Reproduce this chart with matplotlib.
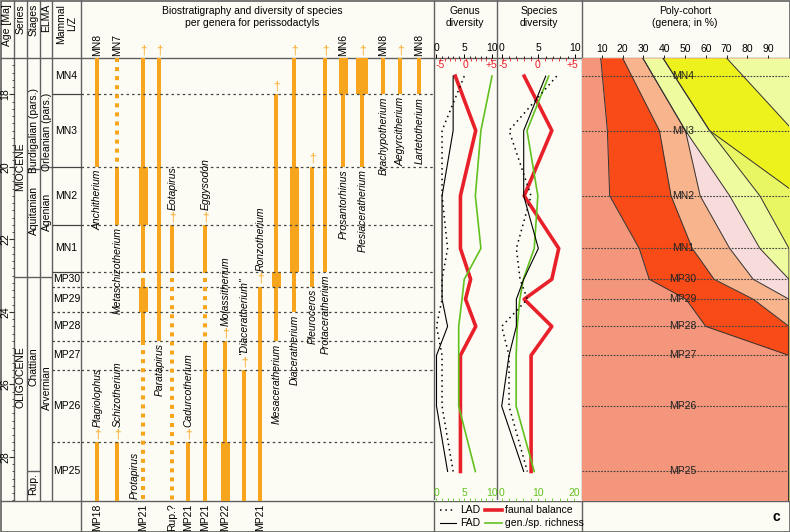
import numpy as np
import matplotlib
matplotlib.use('Agg')
import matplotlib.pyplot as plt

plt.rcParams['font.family'] = ['Liberation Sans', 'DejaVu Sans']

W, H = 790, 532
AGE_TOP, AGE_BOT = 17.0, 29.2

# time scale (Ma)
zone_names = ['MN4', 'MN3', 'MN2', 'MN1', 'MP30', 'MP29', 'MP28', 'MP27', 'MP26', 'MP25']
zone_bounds = [17.0, 18.0, 20.0, 21.6, 22.9, 23.3, 24.0, 24.8, 25.6, 27.6, 29.2]
series_names = ['MIOCENE', 'OLIGOCENE']
series_bounds = [17.0, 23.05, 29.2]
stage_names = ['Burdigalian (pars.)', 'Aquitanian', 'Chattian', 'Rup.']
stage_bounds = [17.0, 20.05, 23.05, 28.4, 29.2]
elma_names = ['Orleanian (pars.)', 'Agenian', 'Arvernian']
elma_bounds = [17.0, 20.0, 23.05, 29.2]

# genera, column, ranges (start, end, n species; 0 = uncertain)
genera = ['Anchitherium', 'Plagiolophus', 'Metaschizotherium', 'Schizotherium', 'Protapirus',
          'Paratapirus', 'Eotapirus', 'Cadurcotherium', 'Eggysodon', 'Molassitherium',
          '"Diaceratherium"', 'Ronzotherium', 'Mesaceratherium', 'Diaceratherium', 'Pleuroceros',
          'Protaceratherium', 'Prosantorhinus', 'Plesiaceratherium', 'Brachypotherium',
          'Aegyrcitherium', 'Lartetotherium']
genus_col = [0, 0, 1, 1, 2, 3, 4, 5, 6, 7, 8, 9, 10, 11, 12, 13, 14, 15, 16, 17, 18]
ranges = [
    [(17.0, 20.0, 1)],
    [(27.6, 29.2, 1)],
    [(17.0, 20.0, 0), (20.0, 21.6, 1)],
    [(27.6, 29.2, 1)],
    [(17.0, 20.0, 1), (20.0, 21.6, 2), (21.6, 22.93, 1), (23.07, 23.3, 1), (23.3, 24.0, 2),
     (24.0, 24.8, 1), (24.8, 29.2, 0)],
    [(17.0, 24.8, 1)],
    [(21.6, 22.93, 1), (23.07, 29.2, 0)],
    [(27.6, 29.2, 1)],
    [(21.6, 22.93, 1), (23.07, 24.75, 0), (24.8, 29.2, 1)],
    [(24.8, 27.6, 1), (27.6, 29.2, 2)],
    [(25.6, 29.2, 1)],
    [(23.3, 29.2, 1)],
    [(18.0, 22.9, 1), (22.9, 23.3, 2), (23.3, 24.8, 1)],
    [(17.0, 20.0, 1), (20.0, 22.9, 2), (22.9, 24.0, 1)],
    [(20.0, 23.3, 1)],
    [(17.0, 22.9, 1)],
    [(17.0, 18.0, 2), (18.0, 20.0, 1)],
    [(17.0, 18.0, 3), (18.0, 20.0, 1)],
    [(17.0, 18.0, 1)],
    [(17.0, 18.0, 1)],
    [(17.0, 18.0, 1)],
]
top_mark = ['MN8', '†', 'MN7', '†', '†', '†', '†', '†', '†', '†', '†', '†', '†', '†', '†', '†',
            'MN6', '†', 'MN8', '†', 'MN8']
bottom_mark = ['', 'MP18', '', '', 'MP21', '', 'Rup.?', 'MP21', 'MP21', 'MP22', '', 'MP21',
               '', '', '', '', '', '', '', '', '']

# diversity, one value per mammal zone (MN4 ... MP25)
genus_lad = [5, 1, 1, 2, 1, 1, 0, 1, 1, 3]
genus_fad = [3, 3, 1, 1, 1, 1, 2, 0, 0, 2]
genus_balance = [-2, 2, -1, -1, 1, 0, 2, -1, -1, -1]
genus_richness = [10, 8, 7, 8, 5, 4.6, 4, 4, 4, 7]
species_lad = [7.5, 1, 4, 2, 2.5, 3.5, 0, 1, 1, 3.5]
species_fad = [6, 3, 3, 5, 3, 2, 2, 1, 0, 3]
species_balance = [-2, 2, -2, 3, 2, -2, 2, -1, -1, -1]
species_richness = [13, 7, 10, 9, 6, 5, 4.3, 4, 4, 9]

# poly-cohort boundaries (cumulative %), at top, MN3, MN2, MN1, MP30, MP29, MP28, MP27, bottom
cohort_1 = [9.5, 12.7, 13.8, 28, 32.8, 50.5, 60, 100, 100]
cohort_2 = [20, 37.7, 43.3, 53.5, 64, 82.8, 100, 100, 100]
cohort_3 = [29.7, 50.2, 57.3, 71.5, 82.8, 100, 100, 100, 100]
cohort_4 = [29.7, 50.2, 71.5, 86, 100, 100, 100, 100, 100]
cohort_5 = [39.4, 61.8, 86, 100, 100, 100, 100, 100, 100]
cohort_6 = [39.4, 61.8, 105, 105, 105, 105, 105, 105, 105]
cohort_7 = [70, 102, 105, 105, 105, 105, 105, 105, 105]

ORANGE = '#f7a51c'
RED = '#e8202a'
GREEN = '#62c11f'
LC = '#606060'
BG = '#fdfcf4'

mids = [(a + b) / 2 for a, b in zip(zone_bounds[:-1], zone_bounds[1:])]

fig = plt.figure(figsize=(W / 100, H / 100), dpi=100)
fig.patch.set_facecolor(BG)


def px_axes(x0, y0, x1, y1):
    return fig.add_axes([x0 / W, 1 - y1 / H, (x1 - x0) / W, (y1 - y0) / H])


Y0, Y1 = 58, 500.5

# frame and headers
frame = px_axes(0, 0, W, H)
frame.set_xlim(0, W)
frame.set_ylim(H, 0)
frame.axis('off')
frame.add_patch(plt.Rectangle((0.5, 0.5), W - 1, H - 1, fill=False, ec=LC, lw=1.2))
frame.hlines([Y0, Y1], 0, W, color=LC, lw=1)
frame.vlines([14, 27, 40, 52, 497], 0, Y1, color=LC, lw=1)
frame.vlines([81, 434, 582], 0, H, color=LC, lw=1)

for x, t in [(7, 'Age [Ma]'), (20.5, 'Series'), (33.5, 'Stages'), (46, 'ELMA'), (66.5, 'Mammal\nL/Z')]:
    frame.text(x, 4, t, rotation=90, ha='center', va='top', fontsize=7.5, linespacing=1.1)
for x, t in [(252, 'Biostratigraphy and diversity of species\nper genera for perissodactyls'),
             (465, 'Genus\ndiversity'), (539, 'Species\ndiversity'),
             (685, 'Poly-cohort\n(genera; in %)')]:
    frame.text(x, 6, t, ha='center', va='top', fontsize=7.5, linespacing=1.2)

# legend
frame.plot([440, 456], [510, 510], color='k', lw=1.1, ls=(0, (1, 2.5)))
frame.plot([440, 456], [523, 523], color='k', lw=0.8)
frame.plot([485, 502], [510, 510], color=RED, lw=2.6)
frame.plot([485, 502], [523, 523], color=GREEN, lw=1.2)
frame.text(460, 510, 'LAD', va='center', fontsize=7.5)
frame.text(460, 523, 'FAD', va='center', fontsize=7.5)
frame.text(505, 510, 'faunal balance', va='center', fontsize=7.5)
frame.text(505, 523, 'gen./sp. richness', va='center', fontsize=7.5)
frame.text(776, 517, 'c', ha='center', va='center', fontsize=10, fontweight='bold')

# stratigraphy and ranges
st = px_axes(0, Y0, 434, Y1)
st.set_xlim(0, 434)
st.set_ylim(AGE_BOT, AGE_TOP)
st.axis('off')

st.hlines(np.arange(17.0, 29.21, 0.2), 11.5, 14, color='#333', lw=0.6)
for a in range(18, 29, 2):
    st.hlines(a, 8.5, 14, color='#333', lw=0.8)
    st.text(5.5, a, str(a), rotation=90, ha='center', va='center', fontsize=7.5)

st.hlines(series_bounds[1:-1], 14, 27, color=LC, lw=1)
st.hlines(stage_bounds[1:-1], 27, 40, color=LC, lw=1)
st.hlines(elma_bounds[1:-1], 40, 52, color=LC, lw=1)
for name, y in zip(series_names, [20.0, 25.8]):
    st.text(20.5, y, name, rotation=90, ha='center', va='center', fontsize=7.5)
for name, y in zip(stage_names, [19.0, 21.2, 25.5, 28.75]):
    st.text(33.5, y, name, rotation=90, ha='center', va='center', fontsize=7.5)
for name, y in zip(elma_names, [19.05, 21.25, 26.1]):
    st.text(46.5, y, name, rotation=90, ha='center', va='center', fontsize=7.5)

for i, b in enumerate(zone_bounds[1:-1]):
    if zone_names[i].startswith('MN'):
        st.hlines(b, 52, 81, color='#444', lw=0.9)
    else:
        st.hlines(b, 52, 81, color='#444', lw=0.9, linestyles=(0, (2, 2)))
    st.hlines(b, 81, 434, color='#444', lw=0.9, linestyles=(0, (2, 2.5)))
for name, m in zip(zone_names, mids):
    st.text(66.5, m, name, ha='center', va='center', fontsize=7.5)

col_x = [97, 117, 143, 159, 172, 188, 205, 225, 244, 260, 276, 294, 312, 325, 343, 362, 383, 400, 419]
bar_w = {1: 4, 2: 9, 3: 12}
for name, col, segs, tm, bm in zip(genera, genus_col, ranges, top_mark, bottom_mark):
    x = col_x[col]
    for s, e, n in segs:
        if n == 0:
            st.vlines(x, s, e, color=ORANGE, lw=2.9, linestyles=(0, (1, 1.25)))
        else:
            st.bar(x, e - s, bottom=s, width=bar_w[n], color=ORANGE, lw=0)
    start = segs[0][0]
    end = segs[-1][1]
    if tm == '†':
        st.text(x, start - 0.05, tm, ha='center', va='bottom', fontsize=8.5, color=ORANGE,
                clip_on=False)
    else:
        st.text(x, start - 0.06, tm, ha='center', va='bottom', rotation=90, fontsize=7.5,
                clip_on=False)
    if bm:
        st.text(x, end + 0.08, bm, ha='center', va='top', rotation=90, fontsize=7.5,
                clip_on=False)
    if end < AGE_BOT:
        st.text(x + 0.5, end + 0.07, name, ha='center', va='top', rotation=90, fontsize=7.5,
                style='italic')
    elif start > AGE_TOP:
        st.text(x + 0.5, start - 0.42, name, ha='center', va='bottom', rotation=90,
                fontsize=7.5, style='italic')
    else:
        st.text(x - 8, AGE_BOT - 0.05, name, ha='center', va='bottom', rotation=90,
                fontsize=7.5, style='italic')


# diversity panels; red_fn / green_fn map panel units -> secondary scale and back
def diversity_panel(x0, x1, xlim, red_fn, green_fn, gticks, lad, fad, bal, rich):
    ax = px_axes(x0, Y0, x1, Y1)
    ax.set_xlim(*xlim)
    ax.set_ylim(AGE_BOT, AGE_TOP)
    ax.patch.set_alpha(0)
    for s in ax.spines.values():
        s.set_visible(False)
    ax.set_yticks([])
    ax.xaxis.tick_top()
    ax.set_xticks([0, 5, 10])
    ax.set_xticks(range(11), minor=True)
    ax.tick_params(axis='x', which='major', direction='out', length=3, width=0.7, pad=0.5,
                   labelsize=7.5)
    ax.tick_params(axis='x', which='minor', direction='out', length=1.8, width=0.6)
    red_ax = ax.secondary_xaxis('top', functions=red_fn)
    red_ax.set_xticks([-5, 0, 5], ['-5', '0', '+5'])
    red_ax.set_xticks(range(-5, 6), minor=True)
    red_ax.tick_params(which='both', direction='in', pad=-9, colors=RED, labelsize=7.5,
                       length=2, width=0.6)
    red_ax.spines['top'].set_visible(False)
    grn_ax = ax.secondary_xaxis('bottom', functions=green_fn)
    grn_ax.set_xticks(gticks)
    grn_ax.set_xticks(np.linspace(gticks[0], gticks[-1], 11), minor=True)
    grn_ax.tick_params(which='both', direction='in', pad=-9, colors=GREEN, labelsize=7.5,
                       length=2, width=0.6)
    grn_ax.spines['bottom'].set_visible(False)
    ax.plot(red_fn[1](np.array(bal, float)), mids, color=RED, lw=2.6)
    ax.plot(green_fn[1](np.array(rich, float)), mids, color=GREEN, lw=1.2)
    ax.plot(fad, mids, color='k', lw=0.8)
    ax.plot(lad, mids, color='k', lw=1.1, ls=(0, (1, 2.5)))
    return ax


diversity_panel(434, 497, (-0.45, 10.9),
                (lambda b: (b - 5.23) / 0.92, lambda r: 5.23 + 0.92 * r),
                (lambda b: b, lambda g: g), [0, 5, 10],
                genus_lad, genus_fad, genus_balance, genus_richness)
diversity_panel(497, 582, (-0.64, 10.95),
                (lambda b: (b - 4.95) / 0.942, lambda r: 4.95 + 0.942 * r),
                (lambda b: b / 0.493, lambda g: g * 0.493), [0, 10, 20],
                species_lad, species_fad, species_balance, species_richness)

# poly-cohort
pc = px_axes(582, Y0, 789, Y1)
pc.set_xlim(0.5, 100)
pc.set_ylim(AGE_BOT, AGE_TOP)
pc.set_facecolor('#f4967b')
for s in pc.spines.values():
    s.set_visible(False)
pc.set_yticks([])
pc.xaxis.tick_top()
pc.set_xticks(range(10, 100, 10))
pc.tick_params(axis='x', direction='out', length=2, width=0.6, pad=1, labelsize=7.5)

levels = [AGE_TOP] + mids[1:8] + [AGE_BOT]
bands = [cohort_1, cohort_2, cohort_3, cohort_4, cohort_5, cohort_6, cohort_7, [110] * 9]
band_colors = ['#f84b17', '#f7b48d', '#f8dcdc', '#effb9f', '#e9f663', '#eef21c', '#effb9f']
for left, right, c in zip(bands[:-1], bands[1:], band_colors):
    pc.fill_betweenx(levels, left, right, color=c, lw=0)
for b in bands[:-1]:
    pc.plot(b, levels, color='#333', lw=0.7)
pc.hlines(mids, 0.5, 100, color='#444', lw=0.8, linestyles=(0, (1.6, 1.2)))
for name, m in zip(zone_names, mids):
    pc.text(49, m, name, ha='center', va='center', fontsize=7.5, color='#222')

fig.savefig('out.png', dpi=100, facecolor=BG)
